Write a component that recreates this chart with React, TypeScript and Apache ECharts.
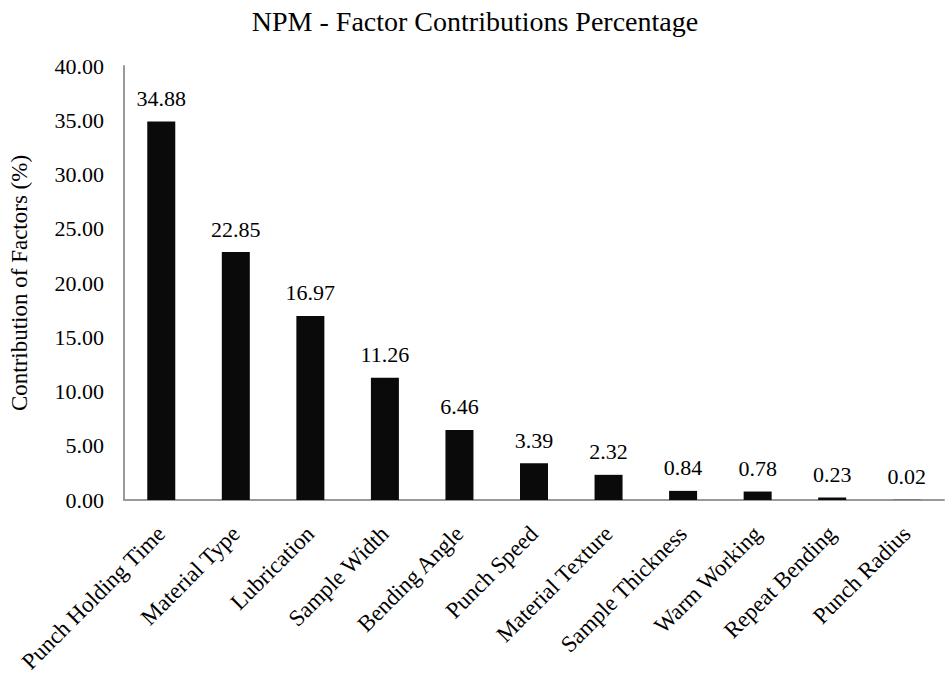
import * as echarts from "echarts";
import { useEffect, useRef } from "react";

const factors = [
  "Punch Holding Time",
  "Material Type",
  "Lubrication",
  "Sample Width",
  "Bending Angle",
  "Punch Speed",
  "Material Texture",
  "Sample Thickness",
  "Warm Working",
  "Repeat Bending",
  "Punch Radius",
];
const contributions = [34.88, 22.85, 16.97, 11.26, 6.46, 3.39, 2.32, 0.84, 0.78, 0.23, 0.02];

const serif = "'Liberation Serif', 'Times New Roman', serif";

export default function App() {
  const chartRef = useRef<HTMLDivElement>(null);

  useEffect(() => {
    document.body.style.margin = "0";
    if (!chartRef.current) return;
    const chart = echarts.init(chartRef.current, null, { renderer: "svg" });

    chart.setOption({
      animation: false,
      backgroundColor: "#fff",
      title: {
        text: "NPM - Factor Contributions Percentage",
        left: "center",
        top: 2,
        textStyle: { fontFamily: serif, fontSize: 28, fontWeight: "normal", color: "#000" },
      },
      grid: { left: 118, right: 6, top: 66, bottom: 182 },
      xAxis: {
        type: "category",
        data: factors,
        axisLine: { lineStyle: { color: "#999", width: 2 } },
        axisTick: { show: false },
        axisLabel: {
          rotate: 45,
          interval: 0,
          margin: 30,
          fontFamily: serif,
          fontSize: 23,
          color: "#000",
        },
      },
      yAxis: {
        type: "value",
        min: 0,
        max: 40,
        interval: 5,
        name: "Contribution of Factors (%)",
        nameLocation: "middle",
        nameGap: 93,
        nameTextStyle: { fontFamily: serif, fontSize: 23, color: "#000" },
        axisLine: { show: true, lineStyle: { color: "#999", width: 2 } },
        axisTick: { show: false },
        splitLine: { show: false },
        axisLabel: {
          margin: 20,
          fontFamily: serif,
          fontSize: 22,
          color: "#000",
          formatter: (v: number) => v.toFixed(2),
        },
      },
      series: [
        {
          type: "bar",
          data: contributions,
          barWidth: 28,
          itemStyle: { color: "#0a0a0a" },
          label: {
            show: true,
            position: "top",
            distance: 12,
            fontFamily: serif,
            fontSize: 22,
            color: "#000",
            formatter: (p: any) => p.value.toFixed(2),
          },
        },
      ],
    });

    return () => chart.dispose();
  }, []);

  return <div ref={chartRef} style={{ width: 950, height: 682 }} />;
}
